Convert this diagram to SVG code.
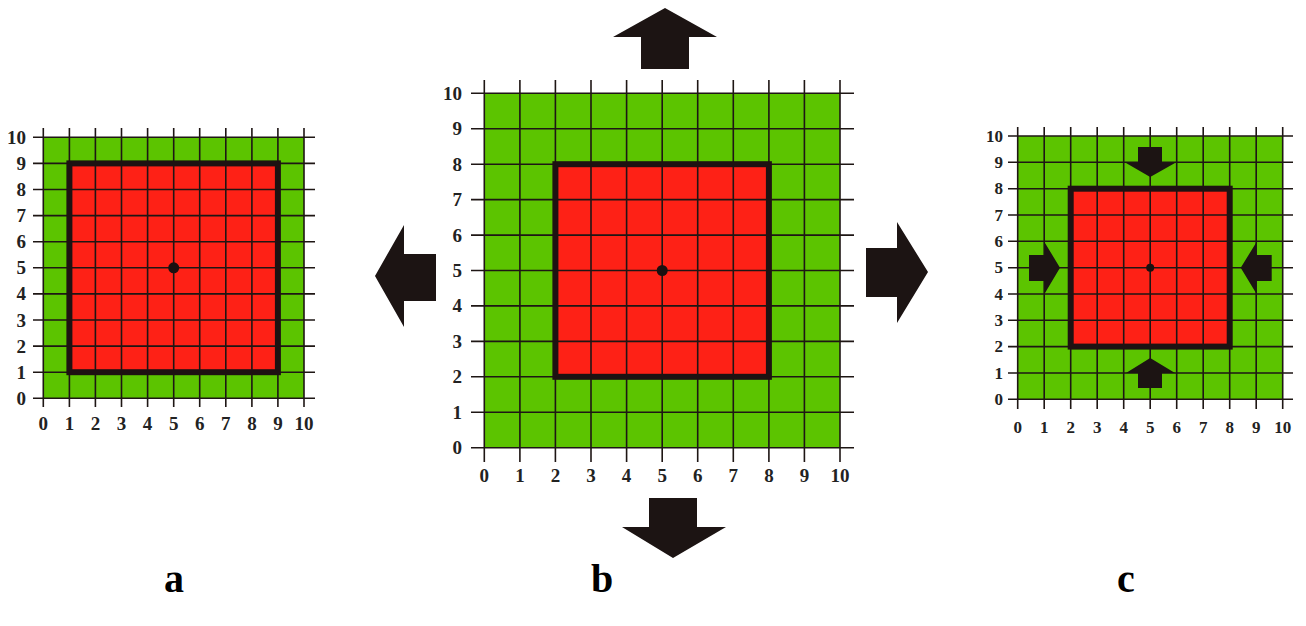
<svg xmlns="http://www.w3.org/2000/svg" width="1306" height="626" viewBox="0 0 1306 626">
<style>
.bg{fill:#ffffff}
.green{fill:#5cc400}
.red{fill:#fe2116}
.grid{stroke:#1e1614;stroke-width:1.6;fill:none}
.border{stroke:#1e1212;stroke-width:6;fill:none;stroke-linejoin:miter}
.dot{fill:#1a1010}
.arrow{fill:#1c1413}
.tick{font-family:"Liberation Serif","Times New Roman",serif;font-weight:bold;font-size:19px;fill:#222}
.tick.c{font-size:17px}
.yl{text-anchor:end;dominant-baseline:central}
.xl{text-anchor:middle}
.cap{font-family:"Liberation Serif","Times New Roman",serif;font-weight:bold;font-size:40px;fill:#000;text-anchor:middle}
</style>
<rect class="bg" x="0" y="0" width="1306" height="626"/>

<g id="panel-a">
<rect class="green" x="43.3" y="137.3" width="260.7" height="261"/>
<rect class="red" x="69.4" y="163.4" width="208.5" height="208.8"/>
<path class="grid" d="M43.3 128V407M69.4 128V407M95.4 128V407M121.5 128V407M147.6 128V407M173.7 128V407M199.7 128V407M225.8 128V407M251.9 128V407M277.9 128V407M304 128V407M33 398.3H315M33 372.2H315M33 346.1H315M33 320H315M33 293.9H315M33 267.8H315M33 241.7H315M33 215.6H315M33 189.5H315M33 163.4H315M33 137.3H315"/>
<rect class="border" x="69.4" y="163.4" width="208.5" height="208.8"/>
<circle class="dot" cx="173.7" cy="267.8" r="5.5"/>
<g class="tick yl">
<text x="26" y="398.3">0</text><text x="26" y="372.2">1</text><text x="26" y="346.1">2</text><text x="26" y="320">3</text><text x="26" y="293.9">4</text><text x="26" y="267.8">5</text><text x="26" y="241.7">6</text><text x="26" y="215.6">7</text><text x="26" y="189.5">8</text><text x="26" y="163.4">9</text><text x="26" y="137.3">10</text>
</g>
<g class="tick xl">
<text x="43.3" y="430">0</text><text x="69.4" y="430">1</text><text x="95.4" y="430">2</text><text x="121.5" y="430">3</text><text x="147.6" y="430">4</text><text x="173.7" y="430">5</text><text x="199.7" y="430">6</text><text x="225.8" y="430">7</text><text x="251.9" y="430">8</text><text x="277.9" y="430">9</text><text x="304" y="430">10</text>
</g>
</g>

<g id="panel-b">
<rect class="green" x="484.3" y="93.3" width="355.7" height="354.4"/>
<rect class="red" x="555.4" y="164.2" width="213.5" height="212.6"/>
<path class="grid" d="M484.3 80V462M519.9 80V462M555.4 80V462M591 80V462M626.6 80V462M662.2 80V462M697.7 80V462M733.3 80V462M768.9 80V462M804.4 80V462M840 80V462M471 447.7H854M471 412.3H854M471 376.8H854M471 341.4H854M471 305.9H854M471 270.5H854M471 235.1H854M471 199.6H854M471 164.2H854M471 128.7H854M471 93.3H854"/>
<rect class="border" x="555.4" y="164.2" width="213.5" height="212.6"/>
<circle class="dot" cx="662.2" cy="270.5" r="5.5"/>
<g class="tick yl">
<text x="462" y="447.7">0</text><text x="462" y="412.3">1</text><text x="462" y="376.8">2</text><text x="462" y="341.4">3</text><text x="462" y="305.9">4</text><text x="462" y="270.5">5</text><text x="462" y="235.1">6</text><text x="462" y="199.6">7</text><text x="462" y="164.2">8</text><text x="462" y="128.7">9</text><text x="462" y="93.3">10</text>
</g>
<g class="tick xl">
<text x="484.3" y="482">0</text><text x="519.9" y="482">1</text><text x="555.4" y="482">2</text><text x="591" y="482">3</text><text x="626.6" y="482">4</text><text x="662.2" y="482">5</text><text x="697.7" y="482">6</text><text x="733.3" y="482">7</text><text x="768.9" y="482">8</text><text x="804.4" y="482">9</text><text x="840" y="482">10</text>
</g>
</g>

<g id="panel-c">
<rect class="green" x="1017.7" y="136" width="265" height="263.3"/>
<rect class="red" x="1070.7" y="188.7" width="159" height="157.9"/>
<path class="grid" d="M1017.7 127V409M1044.2 127V409M1070.7 127V409M1097.2 127V409M1123.7 127V409M1150.2 127V409M1176.7 127V409M1203.2 127V409M1229.7 127V409M1256.2 127V409M1282.7 127V409M1008 399.3H1293M1008 373H1293M1008 346.6H1293M1008 320.3H1293M1008 294H1293M1008 267.7H1293M1008 241.3H1293M1008 215H1293M1008 188.7H1293M1008 162.3H1293M1008 136H1293"/>
<rect class="border" x="1070.7" y="188.7" width="159" height="157.9"/>
<circle class="dot" cx="1150.2" cy="267.7" r="4"/>
<g id="c-arrows" class="arrow">
<polygon points="1138,147 1162,147 1162,163 1175,163 1150.2,177 1126,163 1138,163"/>
<polygon points="1150.2,358 1175,373 1162,373 1162,388 1138,388 1138,373 1126,373"/>
<polygon points="1029,255 1045,255 1045,243 1060,267.7 1045,293 1045,281 1029,281"/>
<polygon points="1271.7,255 1256,255 1256,243 1240.7,267.7 1256,293 1256,281 1271.7,281"/>
</g>
<g class="tick c yl">
<text x="1003" y="399.3">0</text><text x="1003" y="373">1</text><text x="1003" y="346.6">2</text><text x="1003" y="320.3">3</text><text x="1003" y="294">4</text><text x="1003" y="267.7">5</text><text x="1003" y="241.3">6</text><text x="1003" y="215">7</text><text x="1003" y="188.7">8</text><text x="1003" y="162.3">9</text><text x="1003" y="136">10</text>
</g>
<g class="tick c xl">
<text x="1017.7" y="433">0</text><text x="1044.2" y="433">1</text><text x="1070.7" y="433">2</text><text x="1097.2" y="433">3</text><text x="1123.7" y="433">4</text><text x="1150.2" y="433">5</text><text x="1176.7" y="433">6</text><text x="1203.2" y="433">7</text><text x="1229.7" y="433">8</text><text x="1256.2" y="433">9</text><text x="1282.7" y="433">10</text>
</g>
</g>

<g id="connectors" class="arrow">
<polygon id="arrow-up" points="665,8 717,37 689,37 689,69 641,69 641,37 613,37"/>
<polygon id="arrow-down" points="649,498 697,498 697,527 726,527 673,558 622,527 649,527"/>
<polygon id="arrow-left" points="375,276 404,225 404,254 436,254 436,301 404,301 404,327"/>
<polygon id="arrow-right" points="928,272 897,222 897,248 866,248 866,297 897,297 897,323"/>
</g>

<g id="captions">
<text class="cap" x="174" y="592">a</text>
<text class="cap" x="602" y="592">b</text>
<text class="cap" x="1126" y="592">c</text>
</g>
</svg>
